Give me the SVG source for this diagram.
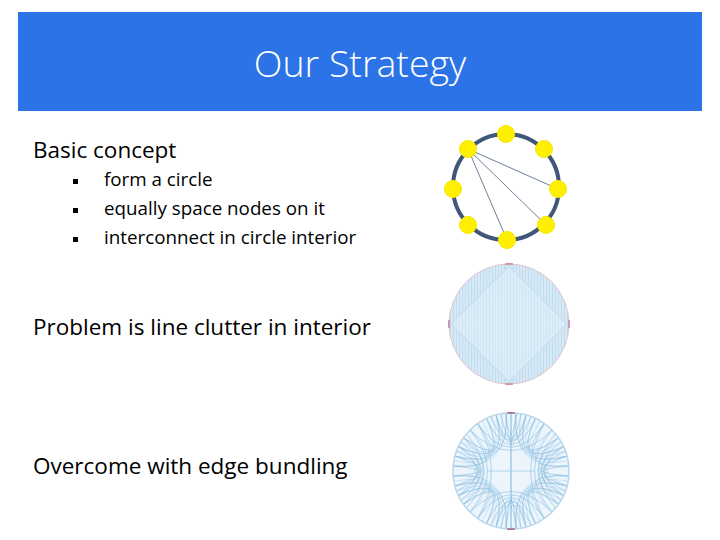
<svg xmlns="http://www.w3.org/2000/svg" width="720" height="540" viewBox="0 0 720 540">
<style>
.t{font-family:"Open Sans","Noto Sans","Liberation Sans",sans-serif;fill:#000}
.h{font-size:22.5px}
.b{font-size:18.8px}
.ttl{font-family:"Open Sans","Noto Sans","Liberation Sans",sans-serif;font-weight:300;font-size:37.5px;fill:#fff}
.node{fill:#ffef00;stroke:#f4e800;stroke-width:1}
.edge{stroke:#4a6080;stroke-width:0.8;fill:none}
.bund{fill:none;stroke:#86bde0;stroke-width:0.45;stroke-opacity:0.75}
</style>
<defs>
<clipPath id="c2"><circle cx="509" cy="324" r="60"/></clipPath>
<clipPath id="c3"><circle cx="511" cy="471" r="58"/></clipPath>
<pattern id="vl" width="3" height="10" patternUnits="userSpaceOnUse">
<rect width="3" height="10" fill="#d6e9f5"/>
<rect width="1" height="10" fill="#c0dcef"/>
</pattern>
<g id="q">
<path class="bund" d="M505.9,413.2Q511,471 453.2,465.9M496,415Q511,471 455,456M486.5,418.4Q511,471 458.4,446.5M477.7,423.5Q511,471 463.5,437.7M505.9,413.2Q511,471 455,456M496,415Q511,471 458.4,446.5M486.5,418.4Q511,471 463.5,437.7M505.9,413.2Q511,471 458.4,446.5M496,415Q511,471 463.5,437.7M470,430Q511,471 453.2,465.9M477.7,423.5Q511,471 455,456M486.5,418.4Q511,471 453.2,465.9M501,414Q511,471 454,461M491,416.5Q511,471 456.5,451M482,421Q511,471 461,442"/>
<path class="bund" d="M470,430Q505,471 470,512M463.5,437.7Q505,471 463.5,504.3M458.4,446.5Q505,471 458.4,495.5M455,456Q505,471 455,486M453.2,465.9Q505,471 453.2,476.1M477.7,423.5Q505,471 477.7,518.5M463.5,437.7Q495,471 458.4,495.5M458.4,446.5Q495,471 455,486M466.5,434Q500,471 466.5,508M461,442Q500,471 461,500M456.5,451Q500,471 456.5,491"/>
<path class="bund" d="M505.9,413.2Q511,471 516.1,413.2M496,415Q511,471 526,415M486.5,418.4Q511,471 535.5,418.4M477.7,423.5Q511,471 544.3,423.5M470,430Q511,471 552,430M496,415Q511,460 516.1,413.2M501,414Q511,465 521,414M491,416.5Q511,465 531,416.5"/>
</g>
</defs>
<rect x="0" y="0" width="720" height="540" fill="#fff"/>
<g id="header">
<rect x="18" y="12" width="684" height="99" fill="#2b73e6"/>
<text class="ttl" x="360" y="77" text-anchor="middle">Our Strategy</text>
</g>
<g id="text-basic">
<text class="t h" x="33" y="158">Basic concept</text>
<rect x="73" y="179" width="5" height="5" fill="#000"/>
<rect x="73" y="208" width="5" height="5" fill="#000"/>
<rect x="73" y="237" width="5" height="5" fill="#000"/>
<text class="t b" x="104" y="186">form  a circle</text>
<text class="t b" x="104" y="215">equally space nodes on it</text>
<text class="t b" x="104" y="244">interconnect in circle interior</text>
</g>
<g id="text-problem"><text class="t h" x="33" y="335">Problem is line clutter in interior</text></g>
<g id="text-overcome"><text class="t h" x="33" y="474">Overcome with edge bundling</text></g>
<g id="circle-graph">
<circle cx="506" cy="187" r="53" fill="none" stroke="#41577a" stroke-width="4"/>
<g id="connectors">
<line class="edge" x1="468" y1="149" x2="558" y2="189"/>
<line class="edge" x1="468" y1="149" x2="546" y2="225"/>
<line class="edge" x1="468" y1="149" x2="507" y2="240"/>
</g>
<circle id="n1" class="node" cx="506" cy="134" r="8.5"/>
<circle id="n2" class="node" cx="544" cy="149" r="8.5"/>
<circle id="n3" class="node" cx="558" cy="189" r="8.5"/>
<circle id="n4" class="node" cx="546" cy="225" r="8.5"/>
<circle id="n5" class="node" cx="507" cy="240" r="8.5"/>
<circle id="n6" class="node" cx="468" cy="225" r="8.5"/>
<circle id="n7" class="node" cx="453" cy="189" r="8.5"/>
<circle id="n8" class="node" cx="468" cy="149" r="8.5"/>
</g>
<g id="clutter">
<circle cx="509" cy="324" r="60" fill="url(#vl)"/>
<g clip-path="url(#c2)">
<polygon points="509,266 567,324 509,382 451,324" fill="#e6f2fa" fill-opacity="0.45" stroke="#cae2f2" stroke-width="2"/>
<polygon points="509,276 557,324 509,372 461,324" fill="none" stroke="#d3e8f5" stroke-width="1"/>
</g>
<circle cx="509" cy="324" r="60" fill="none" stroke="#e2c4cf" stroke-width="1"/>
<path d="M505,264A60,60 0 0 1 513,264M449,320A60,60 0 0 0 449,328M569,320A60,60 0 0 1 569,328M505,384A60,60 0 0 0 513,384" fill="none" stroke="#b8587a" stroke-width="1"/>
</g>
<g id="bundled">
<circle cx="511" cy="471" r="58" fill="#ecf5fb"/>
<g clip-path="url(#c3)">
<use href="#q"/>
<use href="#q" transform="translate(1022,0) scale(-1,1)"/>
<use href="#q" transform="translate(0,942) scale(1,-1)"/>
<use href="#q" transform="translate(1022,942) scale(-1,-1)"/>
<line x1="511" y1="413" x2="511" y2="529" stroke="#7ab6dc" stroke-width="1"/>
<line x1="487" y1="471" x2="535" y2="471" stroke="#9ccbe6" stroke-width="0.8"/>
</g>
<circle cx="511" cy="471" r="58" fill="none" stroke="#b9d7ea" stroke-width="1.5"/>
<path d="M507,413A58,58 0 0 1 515,413M507,529A58,58 0 0 0 515,529" fill="none" stroke="#a04060" stroke-width="1.2"/>
</g>
</svg>
